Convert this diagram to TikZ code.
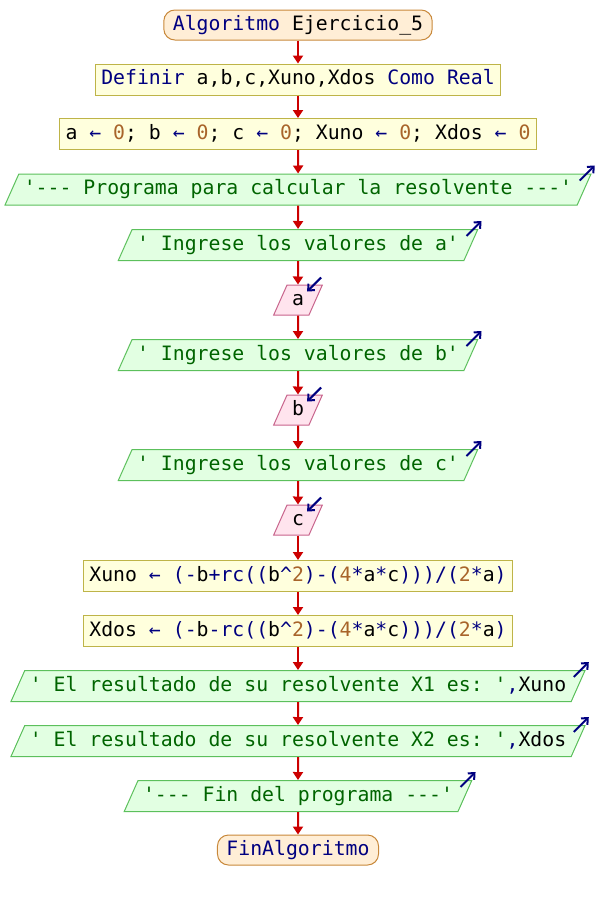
\documentclass[tikz,border=0pt]{standalone}
\usepackage{fontspec}
\setmonofont{DejaVu Sans Mono}
\usepackage{xcolor}
\usetikzlibrary{shapes.geometric,arrows.meta,calc}

\definecolor{azul}{HTML}{000080}
\definecolor{verde}{HTML}{006400}
\definecolor{ocre}{HTML}{A8642A}
\definecolor{rojo}{HTML}{CC0000}
\definecolor{fondoterm}{HTML}{FFEED6}
\definecolor{bordeterm}{HTML}{C8883A}
\definecolor{fondoproc}{HTML}{FFFFDD}
\definecolor{bordeproc}{HTML}{BEB448}
\definecolor{fondosal}{HTML}{E2FFE2}
\definecolor{bordesal}{HTML}{5CC05C}
\definecolor{fondoent}{HTML}{FFE4EE}
\definecolor{bordeent}{HTML}{C8648C}

\newcommand{\kw}[1]{\textcolor{azul}{#1}}
\newcommand{\nm}[1]{\textcolor{ocre}{#1}}
\newcommand{\fuente}{\ttfamily\fontsize{19.8}{24}\selectfont}

\tikzset{
  caja/.style={font=\fuente, text height=14pt, text depth=4pt, inner xsep=6pt, inner ysep=6.5pt, line width=1pt},
  terminal/.style={caja, rectangle, rounded corners=11pt, draw=bordeterm, fill=fondoterm, text=azul, inner xsep=9pt, inner ysep=6pt},
  proceso/.style={caja, rectangle, draw=bordeproc, fill=fondoproc},
  salida/.style={caja, trapezium, trapezium left angle=66, trapezium right angle=114, draw=bordesal, fill=fondosal, text=verde, inner xsep=5pt},
  entrada/.style={caja, trapezium, trapezium left angle=66, trapezium right angle=114, draw=bordeent, fill=fondoent, inner xsep=5pt, inner ysep=6pt},
  flecha/.style={rojo, line width=2pt, -{Triangle[length=8pt,width=10pt]}},
  icono/.style={azul, line width=2pt, -{Straight Barb[length=5pt,width=9pt]}}
}

\begin{document}
\begin{tikzpicture}[x=1pt,y=-1pt]
\useasboundingbox (0,0) rectangle (596,900);

% Inicio y definiciones
\node[terminal] (ini) at (298,25) {Algoritmo \textcolor{black}{Ejercicio\_5}};
\node[proceso] (def) at (298,79.5) {\kw{Definir} a,b,c,Xuno,Xdos \kw{Como Real}};
\node[proceso] (asig) at (298,134) {a \kw{←} \nm{0}; b \kw{←} \nm{0}; c \kw{←} \nm{0}; Xuno \kw{←} \nm{0}; Xdos \kw{←} \nm{0}};
\node[salida] (prog) at (298,189.5) {'--- Programa para calcular la resolvente ---'};

% Lectura de a, b, c
\node[salida] (ina) at (298,245) {' Ingrese los valores de a'};
\node[entrada] (leera) at (298,300) {a};
\node[salida] (inb) at (298,355) {' Ingrese los valores de b'};
\node[entrada] (leerb) at (298,410) {b};
\node[salida] (inc) at (298,465) {' Ingrese los valores de c'};
\node[entrada] (leerc) at (298,520) {c};

% Calculo
\node[proceso] (xuno) at (298,576) {Xuno \kw{←} \kw{(-}b\kw{+rc((}b\kw{\textasciicircum}\nm{2}\kw{)-(}\nm{4}\kw{*}a\kw{*}c\kw{)))/(}\nm{2}\kw{*}a\kw{)}};
\node[proceso] (xdos) at (298,631) {Xdos \kw{←} \kw{(-}b\kw{-rc((}b\kw{\textasciicircum}\nm{2}\kw{)-(}\nm{4}\kw{*}a\kw{*}c\kw{)))/(}\nm{2}\kw{*}a\kw{)}};

% Resultados
\node[salida] (res1) at (298,686) {' El resultado de su resolvente X1 es: '\kw{,}\textcolor{black}{Xuno}};
\node[salida] (res2) at (298,741) {' El resultado de su resolvente X2 es: '\kw{,}\textcolor{black}{Xdos}};
\node[salida] (fin) at (298,796) {'--- Fin del programa ---'};
\node[terminal] (finalg) at (298,850) {FinAlgoritmo};

% Flechas
\foreach \desde/\hasta in {ini/def, def/asig, asig/prog, prog/ina, ina/leera, leera/inb, inb/leerb, leerb/inc, inc/leerc, leerc/xuno, xuno/xdos, xdos/res1, res1/res2, res2/fin, fin/finalg}
  \draw[flecha] (\desde) -- (\hasta);

% Iconos de salida y entrada
\foreach \n in {prog,ina,inb,inc,res1,res2,fin}
  \draw[icono] ($(\n.top right corner)+(-12,7)$) -- ($(\n.top right corner)+(3,-8)$);
\foreach \n in {leera,leerb,leerc}
  \draw[icono] ($(\n.top right corner)+(-2,-7)$) -- ($(\n.top right corner)+(-16,7)$);
\end{tikzpicture}
\end{document}
